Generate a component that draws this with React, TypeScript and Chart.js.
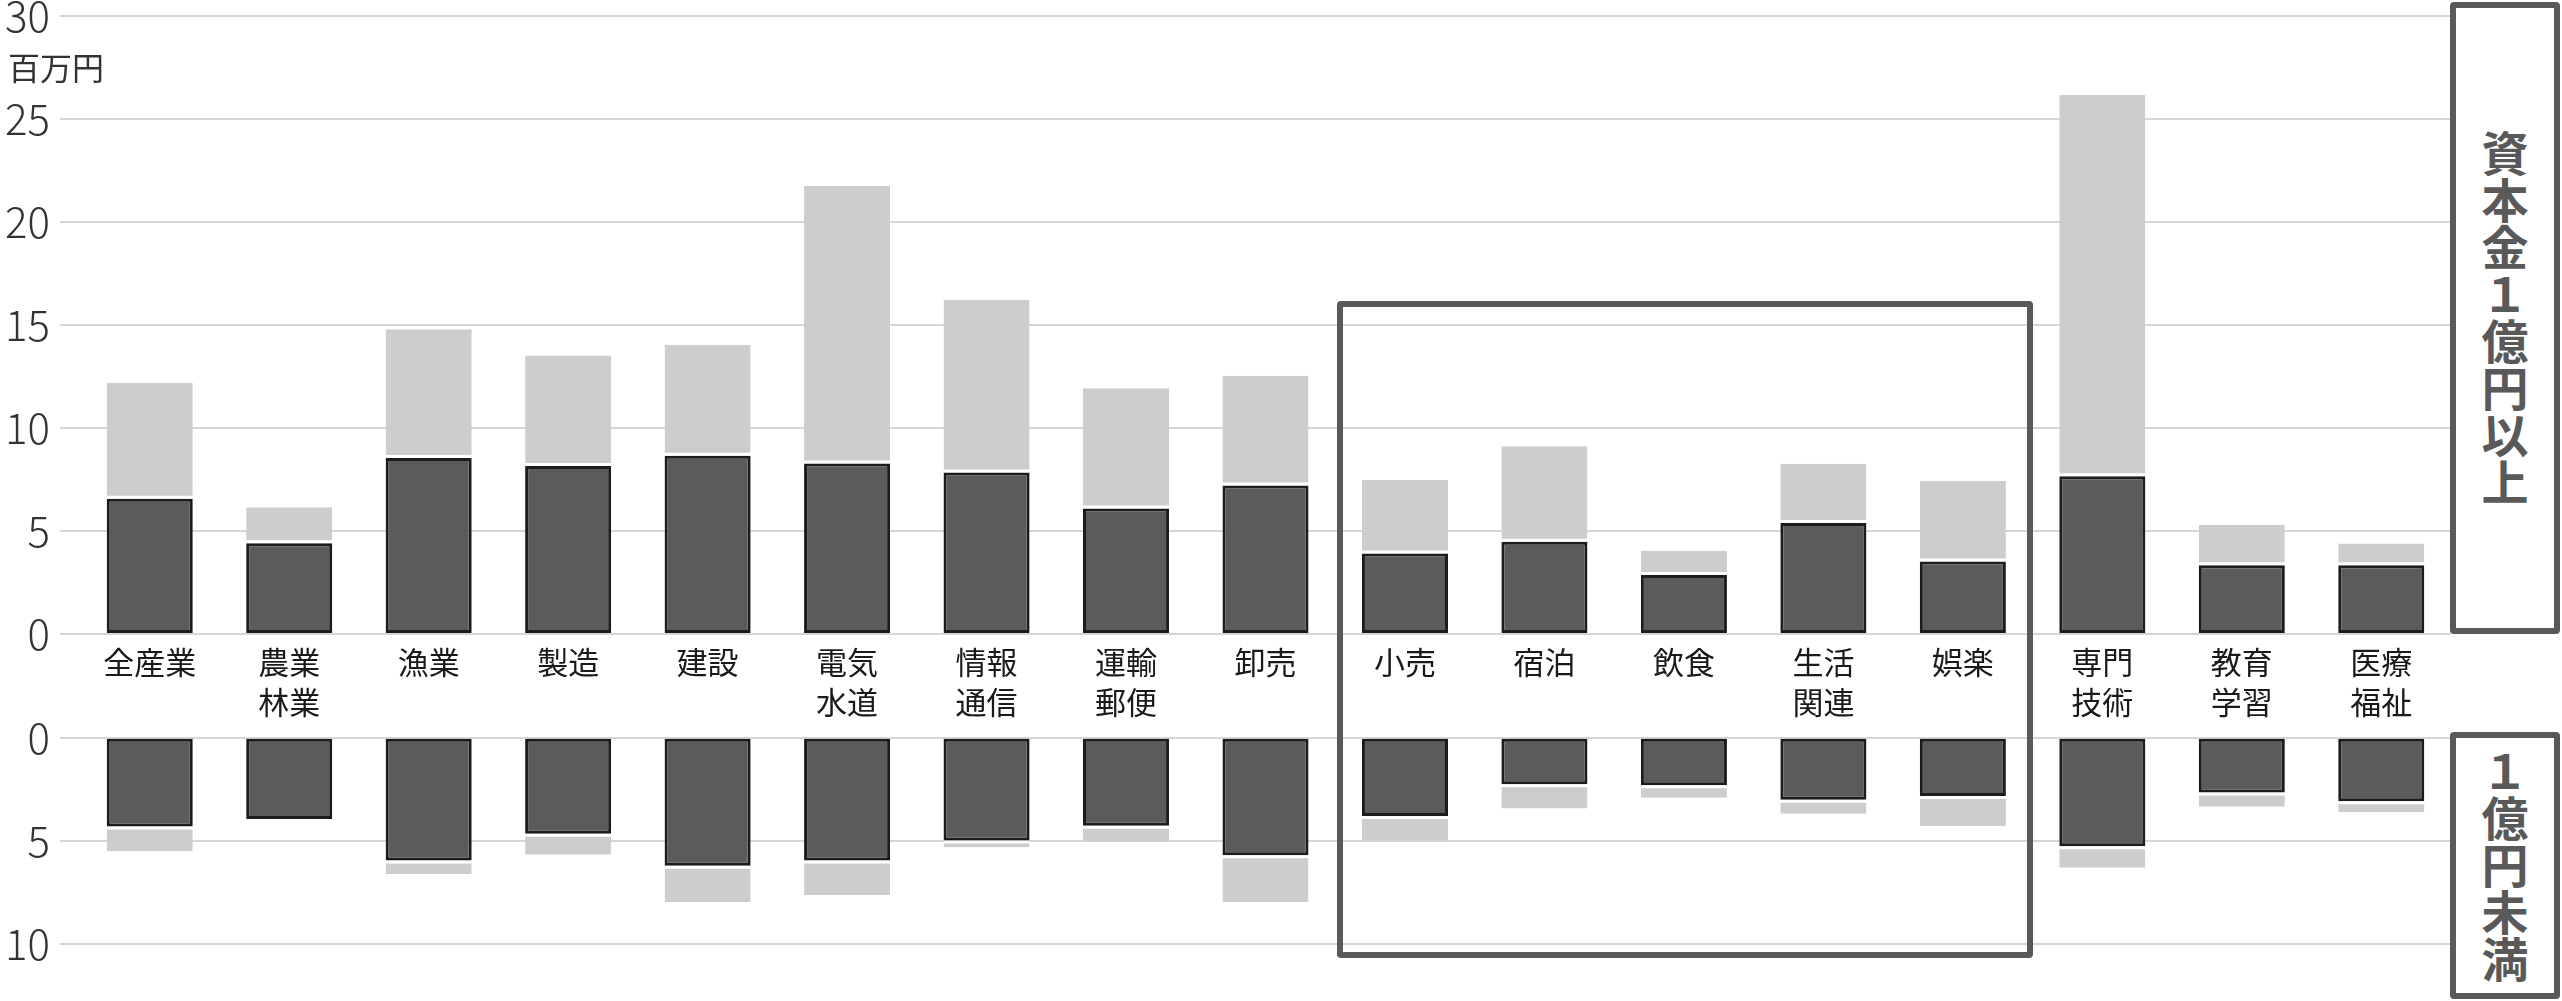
import React, { useEffect, useRef } from 'react';
import Chart from 'chart.js/auto';

const FONT = '"Noto Sans CJK JP", "Noto Sans", sans-serif';

// 業種（2行のものは配列で改行）
const categories: string[][] = [
  ['全産業'], ['農業', '林業'], ['漁業'], ['製造'], ['建設'], ['電気', '水道'], ['情報', '通信'],
  ['運輸', '郵便'], ['卸売'], ['小売'], ['宿泊'], ['飲食'], ['生活', '関連'], ['娯楽'],
  ['専門', '技術'], ['教育', '学習'], ['医療', '福祉'],
];

// 資本金1億円以上（百万円）: 濃い部分と薄い部分
const largeDark = [6.56, 4.4, 8.54, 8.15, 8.65, 8.28, 7.84, 6.09, 7.21, 3.91, 4.48, 2.86, 5.39, 3.52, 7.65, 3.34, 3.34];
const largeLight = [5.63, 1.75, 6.25, 5.37, 5.39, 13.46, 8.38, 5.84, 5.32, 3.56, 4.63, 1.18, 2.87, 3.92, 18.51, 1.95, 1.05];

// 資本金1億円未満（百万円）
const smallDark = [4.3, 3.94, 5.95, 4.65, 6.2, 5.95, 4.98, 4.26, 5.69, 3.79, 2.25, 2.3, 3.0, 2.82, 5.26, 2.65, 3.08];
const smallLight = [1.2, 0, 0.65, 1.02, 1.76, 1.67, 0.32, 0.78, 2.27, 1.2, 1.17, 0.6, 0.68, 1.45, 1.04, 0.69, 0.52];

interface PanelProps {
  dark: number[];
  light: number[];
  max: number;
  upper: boolean;
}

const BarPanel: React.FC<PanelProps> = ({ dark, light, max, upper }) => {
  const chartRef = useRef<HTMLCanvasElement>(null);
  const chartInstance = useRef<Chart | null>(null);

  useEffect(() => {
    if (!chartRef.current) return;
    if (chartInstance.current) chartInstance.current.destroy();
    const ctx = chartRef.current.getContext('2d');
    if (!ctx) return;

    chartInstance.current = new Chart(ctx, {
      type: 'bar',
      data: {
        labels: categories,
        datasets: [
          {
            data: dark,
            backgroundColor: '#5c5b5c',
            borderColor: '#1c1c1c',
            borderWidth: 3,
            borderSkipped: false,
            stack: 's',
            categoryPercentage: 1,
            barPercentage: 0.617,
          },
          {
            data: light,
            backgroundColor: '#cdcdcd',
            borderColor: '#ffffff',
            // 濃い部分との間の白い隙間
            borderWidth: upper
              ? { top: 0, left: 0, right: 0, bottom: 3 }
              : { top: 3, left: 0, right: 0, bottom: 0 },
            borderSkipped: false,
            stack: 's',
            categoryPercentage: 1,
            barPercentage: 0.617,
          },
        ],
      },
      options: {
        animation: false,
        responsive: true,
        maintainAspectRatio: false,
        layout: { padding: { left: 0, right: 111, top: 0, bottom: 0 } },
        plugins: {
          legend: { display: false },
          tooltip: { enabled: false },
        },
        scales: {
          x: {
            stacked: true,
            display: upper,
            grid: { display: false, drawTicks: false },
            border: { display: false },
            ticks: {
              padding: 8,
              color: '#1a1a1a',
              autoSkip: false,
              maxRotation: 0,
              font: { family: FONT, size: 31, lineHeight: 1.3 },
            },
            afterFit: (scale: any) => {
              if (upper) scale.height = 106;
            },
          },
          y: {
            stacked: true,
            min: 0,
            max,
            reverse: !upper,
            border: { display: false },
            grid: { color: '#d6d6d6', lineWidth: 2, tickLength: 20, drawTicks: true },
            ticks: {
              stepSize: 5,
              padding: 10,
              color: '#333333',
              font: { family: FONT, size: 42, weight: '300', lineHeight: 0.8 },
            },
            afterFit: (scale: any) => {
              scale.width = 80;
            },
          },
        },
      },
    });

    return () => {
      if (chartInstance.current) {
        chartInstance.current.destroy();
        chartInstance.current = null;
      }
    };
  }, [dark, light, max, upper]);

  return <canvas ref={chartRef}></canvas>;
};

const boxStyle: React.CSSProperties = {
  position: 'absolute',
  boxSizing: 'border-box',
  border: '6px solid #595959',
  borderRadius: 4,
  background: '#ffffff',
  display: 'flex',
  alignItems: 'center',
  justifyContent: 'center',
};

const boxText: React.CSSProperties = {
  writingMode: 'vertical-rl',
  textOrientation: 'upright',
  whiteSpace: 'nowrap',
  fontFamily: FONT,
  fontWeight: 700,
  fontSize: 47,
  lineHeight: 1,
  color: '#595959',
};

export default function App() {
  return (
    <div
      style={{
        position: 'absolute',
        left: 0,
        top: 0,
        width: 2562,
        height: 1001,
        background: '#ffffff',
        overflow: 'hidden',
        fontFamily: FONT,
      }}
    >
      <div style={{ position: 'absolute', left: 0, top: -11, width: 2562, height: 751 }}>
        <BarPanel dark={largeDark} light={largeLight} max={30} upper={true} />
      </div>
      <div style={{ position: 'absolute', left: 0, top: 711, width: 2562, height: 260 }}>
        <BarPanel dark={smallDark} light={smallLight} max={10} upper={false} />
      </div>

      <div style={{ position: 'absolute', left: 8, top: 48, fontSize: 32, lineHeight: '36px', color: '#333333' }}>
        百万円
      </div>

      <div
        style={{
          position: 'absolute',
          left: 1337,
          top: 301,
          width: 2033 - 1337,
          height: 958 - 301,
          boxSizing: 'border-box',
          border: '6px solid #595959',
          borderRadius: 4,
          pointerEvents: 'none',
        }}
      />

      <div style={{ ...boxStyle, left: 2450, top: 2, width: 110, height: 632 }}>
        <span style={boxText}>資本金１億円以上</span>
      </div>
      <div style={{ ...boxStyle, left: 2450, top: 732, width: 110, height: 267 }}>
        <span style={boxText}>１億円未満</span>
      </div>
    </div>
  );
}
